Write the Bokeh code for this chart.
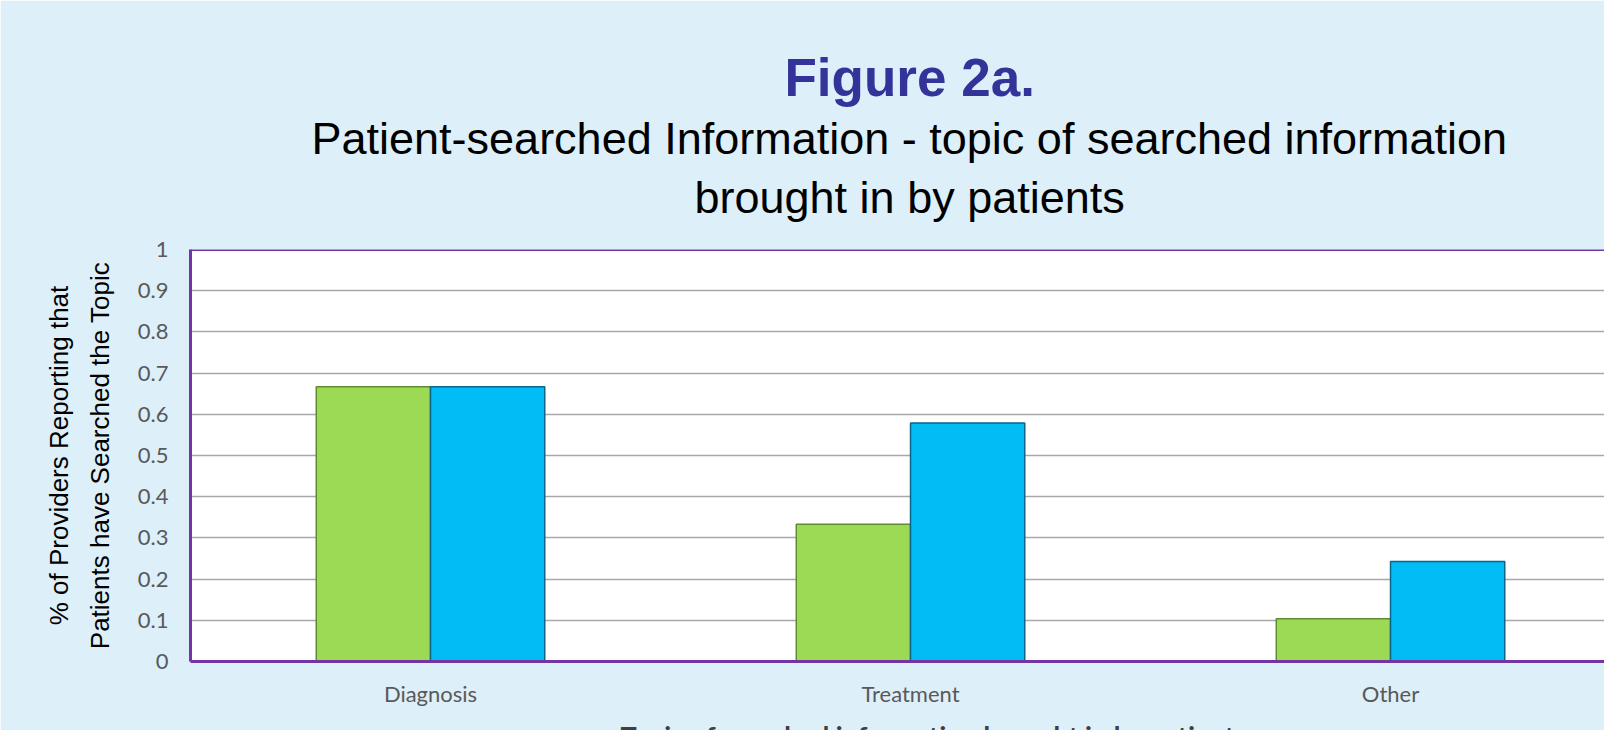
import re
from bokeh.plotting import figure
from bokeh.models import (FixedTicker, CustomJSTickFormatter, Span, Title,
                          ColumnDataSource)
from bokeh.transform import dodge
from bokeh.embed import file_html
from bokeh.resources import INLINE

# ---------------- data ----------------
categories = ["Diagnosis", "Treatment", "Other"]
series_green = [0.667, 0.333, 0.104]
series_blue = [0.667, 0.579, 0.243]
y_ticks = [0, 0.1, 0.2, 0.3, 0.4, 0.5, 0.6, 0.7, 0.8, 0.9, 1.0]

title_main = "Figure 2a."
title_line1 = "Patient-searched Information - topic of searched information"
title_line2 = "brought in by patients"
y_label = "% of Providers Reporting that\nPatients have Searched the Topic"
x_label = "Topic of searched information brought in by patients"

# ---------------- styles ----------------
BG = "#DDEFF9"
PURPLE = "#7334A4"
GREEN, GREEN_EDGE = "#9CDA55", "#5F8C30"
BLUE, BLUE_EDGE = "#02BCF6", "#0A6688"
SANS = "Liberation Sans"
TICKFONT = "Lato"

idx = list(range(len(categories)))
src = ColumnDataSource(dict(x=idx, green=series_green, blue=series_blue))

p = figure(width=1604, height=765, x_range=(-0.5, 2.4458), y_range=(0, 1),
           output_backend="svg", toolbar_location=None,
           min_border_left=190, min_border_right=0,
           min_border_top=249, min_border_bottom=104)

p.background_fill_color = "white"
p.border_fill_color = BG
p.outline_line_color = None

bw = 0.238
p.vbar(x=dodge("x", -bw / 2, range=p.x_range), top="green", width=bw, bottom=0,
       source=src, fill_color=GREEN, line_color=GREEN_EDGE, line_width=1.5)
p.vbar(x=dodge("x", bw / 2, range=p.x_range), top="blue", width=bw, bottom=0,
       source=src, fill_color=BLUE, line_color=BLUE_EDGE, line_width=1.5)

# grid
p.xgrid.grid_line_color = None
p.ygrid.ticker = FixedTicker(ticks=y_ticks)
p.ygrid.grid_line_color = "#A8A8A8"
p.ygrid.grid_line_width = 1.5

# y axis
ya = p.yaxis[0]
ya.ticker = FixedTicker(ticks=y_ticks)
ya.formatter = CustomJSTickFormatter(code="return String(Math.round(tick*10)/10)")
ya.major_tick_line_color = None
ya.minor_tick_line_color = None
ya.major_tick_out = 0
ya.major_tick_in = 0
ya.major_label_standoff = 22
ya.major_label_text_font = TICKFONT
ya.major_label_text_font_size = "22px"
ya.major_label_text_color = "#595959"
ya.axis_line_color = PURPLE
ya.axis_line_width = 3
ya.axis_label = y_label
ya.axis_label_text_font = SANS
ya.axis_label_text_font_size = "26px"
ya.axis_label_text_font_style = "normal"
ya.axis_label_text_color = "black"
ya.axis_label_text_line_height = 1.35
ya.axis_label_standoff = 20

# x axis
xa = p.xaxis[0]
xa.ticker = FixedTicker(ticks=idx)
xa.major_label_overrides = {i: c for i, c in zip(idx, categories)}
xa.major_tick_line_color = None
xa.minor_tick_line_color = None
xa.major_tick_out = 0
xa.major_tick_in = 0
xa.major_label_standoff = 18
xa.major_label_text_font = TICKFONT
xa.major_label_text_font_size = "22px"
xa.major_label_text_color = "#595959"
xa.axis_line_color = PURPLE
xa.axis_line_width = 3

# x-axis title, placed below the tick labels (cut by the window edge as in the original)
p.add_layout(Title(text=x_label, align="left", offset=430, standoff=18,
                   vertical_align="top", text_font=TICKFONT,
                   text_font_style="bold", text_font_size="27px",
                   text_color="#404040"), "below")

# top frame line
p.add_layout(Span(location=1, dimension="width", line_color=PURPLE, line_width=3))

# titles (first added sits closest to the plot)
p.add_layout(Title(text=title_line2, align="left", offset=504, standoff=53,
                   text_font=SANS, text_font_style="normal",
                   text_font_size="45px", text_color="black"), "above")
p.add_layout(Title(text=title_line1, align="left", offset=121, standoff=-40,
                   text_font=SANS, text_font_style="normal",
                   text_font_size="45px", text_color="black"), "above")
p.add_layout(Title(text=title_main, align="left", offset=594, standoff=47,
                   text_font=SANS, text_font_style="bold",
                   text_font_size="53px", text_color="#333399"), "above")

html = file_html(p, INLINE, title="Figure 2a")
html = re.sub(r"<body([^>]*)>",
              r'<body\1 style="background-color:%s; overflow:hidden;">' % BG,
              html, count=1)
open("out.html", "w").write(html)
